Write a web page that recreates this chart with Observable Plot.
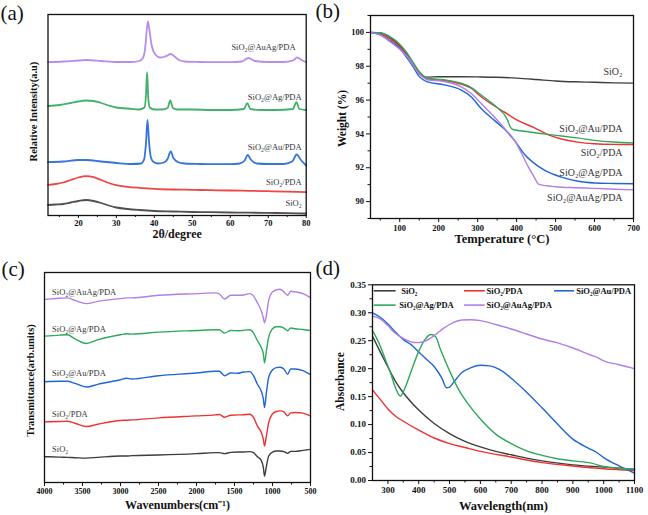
<!DOCTYPE html>
<html><head><meta charset="utf-8">
<script src="https://cdn.jsdelivr.net/npm/d3@7"></script>
<script src="https://cdn.jsdelivr.net/npm/@observablehq/plot@0.6"></script>
<style>
body{margin:0;background:#fff;}
#wrap{position:relative;width:648px;height:515px;overflow:hidden;background:#fff;}
.panel{position:absolute;}
</style>
</head><body>
<div id="wrap">
  <div class="panel" id="pa" style="left:0;top:0"></div>
  <div class="panel" id="pb" style="left:312px;top:0"></div>
  <div class="panel" id="pc" style="left:0;top:258px"></div>
  <div class="panel" id="pd" style="left:312px;top:258px"></div>
</div>
<script>
// ---------- shared series ----------
const names = ["SiO₂", "SiO₂/PDA", "SiO₂@Au/PDA", "SiO₂@Ag/PDA", "SiO₂@AuAg/PDA"];
const colors = ["#3d3d3d", "#ee3131", "#1f65d6", "#2ea85b", "#b07fe6"];

// ---------- (a) XRD, stacked relative intensity (arb. units) ----------
const xrdSiO2X = [12,14,16,18,20,22,24,26,28,30,33,36,40,45,50,55,60,65,70,75,80];
const xrdSiO2Y = [10.5,11,11.5,13,14.5,15.5,14.5,12.5,10,8,6.5,5.5,4.5,4,3.5,3.3,3,2.8,2.6,2.3,2];
const xrdPDAX = [12,14,16,18,20,22,24,26,28,30,33,36,40,45,50,55,60,65,70,75,80];
const xrdPDAY = [30.7,31.5,33,35.5,38,39.3,38.3,35.5,32.5,30.3,28.7,27.7,26.7,26,25.7,25.3,25,24.7,24.3,23.8,23.3];
const xrdAuX = [12,16,20,22,26,30,34,36.5,37.3,37.8,38.2,38.6,39.1,39.8,41,42.5,43.5,44.3,45.1,46.5,48,52,56,60,62.5,63.8,64.6,65.4,67,70,74,76.3,77.5,78.6,80];
const xrdAuY = [53.3,54,55.5,55.5,54,52.5,51.5,52,56,72,95.5,74,58,53.5,52,53,56.5,64,57,53,52,51.5,51.3,51.3,52,55,60.5,56,52,51.5,51.5,54,61,55.5,50];
const xrdAgX = [12,15,18,20,22,24,26,28,30,33,36,37.4,37.8,38.1,38.4,38.8,40,42,43.5,44.2,44.9,46,50,55,60,63.6,64.5,65.3,68,72,76.5,77.4,78.2,80];
const xrdAgY = [109.5,110.5,112.5,114,115,114.5,112.5,110,108,107,106,108,120,143.3,118,108,106,106,107.5,115,107.5,106,106,105.5,105.5,106.5,112.3,106.5,105.5,105.5,106.5,113.3,106.5,105.5];
const xrdAuAgX = [12,16,20,22,26,30,34,36,37,37.6,38,38.3,38.7,39.2,39.8,40.5,41.5,42.5,43.5,44.3,45.2,46.5,48,52,56,60,63,64.8,66.5,70,74,76.5,77.6,78.8,80];
const xrdAuAgY = [153.3,154,155,155.5,154.5,153.5,153.5,154.5,157.5,168,185,194,186,172,164,160,158,158.5,160,161.5,159.5,155.5,154,153.5,153.3,153.3,154,157.5,154.5,153.5,153.5,155,158,155.5,153.3];
const xrdTicks = [20,30,40,50,60,70,80];
const xrdMinor = [15,25,35,45,55,65,75];
const xrdLabelX = [78.8, 78.8, 78.8, 78.8, 77.2];
const xrdLabelY = [12.7, 33.3, 68.3, 118.3, 168.3];

// ---------- (b) TGA ----------
const tgaSiO2T = [25,50,75,100,120,135,150,160,170,200,250,300,350,400,450,500,550,600,650,700];
const tgaSiO2W = [100,99.96,99.7,99.2,98.65,98.15,97.62,97.42,97.36,97.38,97.38,97.37,97.35,97.3,97.22,97.13,97.08,97.05,97.02,97.0];
const tgaPDAT = [25,50,75,100,120,135,150,160,171,200,230,257,283,309,343,368,403,446,480,515,560,600,650,700];
const tgaPDAW = [100,99.9,99.62,99.15,98.6,98.15,97.6,97.38,97.25,97.18,97.1,96.95,96.7,96.2,95.65,95.3,94.8,94.36,93.96,93.7,93.5,93.42,93.38,93.37];
const tgaAuT = [25,50,75,100,120,135,150,160,171,214,257,283,309,343,360,370,377,384,390,400,430,470,515,560,600,650,700];
const tgaAuW = [100,99.98,99.75,99.3,98.75,98.2,97.7,97.45,97.3,97.2,97.0,96.75,96.3,95.7,95.35,95.1,94.8,94.4,94.27,94.22,94.13,94.0,93.88,93.75,93.62,93.52,93.47];
const tgaAgT = [25,50,75,100,120,135,150,160,171,214,257,283,309,343,368,395,420,455,490,515,558,601,650,700];
const tgaAgW = [100,99.85,99.5,99.05,98.45,97.95,97.4,97.2,97.08,96.9,96.6,96.2,95.5,94.8,94.3,93.6,92.8,92.1,91.65,91.45,91.2,91.1,91.07,91.05];
const tgaAuAgT = [25,50,75,100,120,135,150,160,171,214,257,283,309,343,368,395,429,445,455,460,500,550,600,650,700];
const tgaAuAgW = [100,99.85,99.45,99.0,98.55,98.05,97.55,97.35,97.2,97.1,96.8,96.4,95.8,95.0,94.35,93.6,92.1,91.45,91.05,91.0,90.88,90.82,90.78,90.73,90.69];
// note: in panel (b) the green curve is labelled SiO2@Au/PDA and the blue one SiO2@Ag/PDA
const tgaTicksX = [100,200,300,400,500,600,700];
const tgaMinorX = [50,150,250,350,450,550,650];
const tgaTicksY = [90,92,94,96,98,100];
const tgaMinorY = [89,91,93,95,97,99,101];
const tgaLabels = ["SiO₂", "SiO₂@Au/PDA", "SiO₂/PDA", "SiO₂@Ag/PDA", "SiO₂@AuAg/PDA"];
const tgaLabelT = [672, 672, 672, 672, 672];
const tgaLabelW = [97.65, 94.32, 92.86, 91.73, 90.25];

// ---------- (c) FTIR, stacked transmittance (arb. units) ----------
const irWn = [4000,3800,3700,3600,3450,3300,3000,2920,2850,2500,2000,1750,1700,1630,1550,1450,1400,1300,1250,1200,1150,1120,1105,1080,1050,1000,950,900,850,800,760,700,600,500];
const irSiO2 = [25.7,25.3,25,24.7,24.3,25,26.3,26.3,26.7,27.3,28.7,29.7,29.7,28.7,30,30.3,30.3,30.7,29.7,25.7,22.3,14.7,6.3,16.3,26.3,30.3,31.3,31.3,30.7,29,31,31,32,33];
const irPDA = [60.3,60.7,61,59,55.7,58,61.7,62,62.3,64.3,66.3,67.3,67.7,65,67,67.3,67.3,68,64.7,56.3,50.3,43,36.3,46.3,59.7,68.3,70.7,71.3,70.3,66.3,69.3,69.7,69,66.3];
const irAu = [100.3,100.7,100.7,98.7,95,97.7,102.3,103.7,103,106.3,109,110.7,110.7,106.3,109,108.7,109.7,110.3,106.3,98,91.3,83,74.7,89.7,104.7,112,114.3,114.7,113,107.7,113,113,111.3,107.3];
const irAg = [145.7,146.7,147,143,138.3,142,147,148,147.7,149.7,151.3,152,152,148.7,151.3,151,151.3,152,149,141.3,134.7,128,119,131.3,144.7,153,155,155,153.7,151,153.7,153,152.3,151.3];
const irAuAg = [182.3,183.3,183.7,181.3,178,180.3,183,183.7,183.7,186.3,188,188.7,187.7,182.7,186.3,186.3,186.3,188,185.7,179,171.3,163.7,159,166.3,181.3,189.7,191.7,192.3,189.7,186.3,190.3,189.7,188,184];
const irTicks = [4000,3500,3000,2500,2000,1500,1000,500];
const irMinor = [3750,3250,2750,2250,1750,1250,750];
const irLabelWn = [3900, 3900, 3900, 3900, 3900];
const irLabelY = [33, 68, 109, 152.3, 189.7];

// ---------- (d) UV-vis ----------
const uvSiO2X = [250,275,300,325,350,400,450,500,550,600,650,700,750,800,900,1000,1100];
const uvSiO2Y = [0.258,0.23,0.203,0.177,0.157,0.126,0.102,0.084,0.07,0.06,0.052,0.046,0.04,0.035,0.028,0.024,0.02];
const uvPDAX = [250,275,300,325,350,400,450,500,550,600,700,800,900,1000,1100];
const uvPDAY = [0.162,0.145,0.128,0.115,0.106,0.09,0.076,0.066,0.059,0.052,0.042,0.032,0.026,0.021,0.018];
const uvAuX = [250,275,300,325,350,375,400,425,450,475,490,500,515,540,570,600,630,660,700,750,800,850,900,950,975,1000,1050,1100];
const uvAuY = [0.3,0.292,0.28,0.265,0.252,0.243,0.23,0.217,0.204,0.183,0.166,0.167,0.177,0.193,0.202,0.206,0.205,0.199,0.183,0.158,0.13,0.101,0.074,0.058,0.051,0.041,0.026,0.013];
const uvAgX = [250,270,290,310,325,340,355,375,400,420,440,455,470,500,530,560,600,650,700,750,800,850,900,960,1000,1050,1100];
const uvAgY = [0.268,0.247,0.219,0.19,0.165,0.151,0.165,0.195,0.231,0.252,0.261,0.257,0.235,0.196,0.162,0.137,0.11,0.083,0.066,0.053,0.045,0.039,0.035,0.031,0.025,0.022,0.02];
const uvAuAgX = [250,275,300,320,350,375,400,420,450,480,500,540,570,600,650,700,750,800,850,900,960,975,1000,1050,1100];
const uvAuAgY = [0.294,0.289,0.277,0.265,0.254,0.248,0.2465,0.249,0.259,0.272,0.279,0.287,0.2875,0.286,0.279,0.271,0.262,0.253,0.246,0.237,0.224,0.221,0.214,0.207,0.2];
const uvTicksX = [300,400,500,600,700,800,900,1000,1100];
const uvMinorX = [350,450,550,650,750,850,950,1050];
const uvTicksY = [0,0.05,0.1,0.15,0.2,0.25,0.3,0.35];
const uvMinorY = [0.025,0.075,0.125,0.175,0.225,0.275,0.325];
// legend layout (data units)
const legNames = ["SiO₂", "SiO₂/PDA", "SiO₂@Au/PDA", "SiO₂@Ag/PDA", "SiO₂@AuAg/PDA"];
const legX1 = [254, 547, 839, 254, 547];
const legX2 = [325, 614, 904, 325, 614];
const legTX = [343, 620, 911, 337, 620];
const legY = [0.3393, 0.3393, 0.3393, 0.3137, 0.3137];

// ---------- helpers ----------
function rows(name, xs, ys) { return xs.map((x, i) => ({name, x, y: ys[i]})); }
const serif = '"Liberation Serif", "Times New Roman", serif';
const baseStyle = {fontFamily: serif, fontWeight: "bold", fontSize: "9px", background: "transparent", color: "#111", overflow: "visible"};
const colorScale = {domain: names, range: colors};
const plain = d => String(d);
function titleX(t, dy, size) { return Plot.text([t], {frameAnchor: "bottom", dy, text: d => d, textAnchor: "middle", lineAnchor: "middle", fontSize: size, fontWeight: "bold", fill: "#111"}); }
function titleY(t, dx, dy, size) { return Plot.text([t], {frameAnchor: "left", dx, dy, rotate: -90, text: d => d, textAnchor: "middle", lineAnchor: "middle", fontSize: size, fontWeight: "bold", fill: "#111"}); }
function tag(t, dx, dy) { return Plot.text([t], {frameAnchor: "top-left", dx, dy, text: d => d, textAnchor: "start", lineAnchor: "middle", fontSize: 21, fontWeight: "normal", fill: "#111"}); }
const frame = Plot.frame({stroke: "#111", strokeWidth: 1.3});

// ---------- (a) ----------
const dataA = [
  ...rows(names[0], xrdSiO2X, xrdSiO2Y),
  ...rows(names[1], xrdPDAX, xrdPDAY),
  ...rows(names[2], xrdAuX, xrdAuY),
  ...rows(names[3], xrdAgX, xrdAgY),
  ...rows(names[4], xrdAuAgX, xrdAuAgY)
];
const labA = names.map((n, i) => ({n, x: xrdLabelX[i], y: xrdLabelY[i]}));
document.getElementById("pa").append(Plot.plot({
  width: 324, height: 258, marginLeft: 47.5, marginRight: 18.3, marginTop: 14, marginBottom: 43,
  x: {domain: [12, 80], label: null},
  y: {domain: [0, 201], axis: null},
  color: colorScale,
  style: baseStyle,
  marks: [
    Plot.axisX({ticks: xrdTicks, tickSize: 3, tickPadding: 1, tickFormat: plain, fontSize: 8.5, label: null, stroke: "#111"}),
    Plot.axisX({ticks: xrdMinor, tickSize: 2, tickFormat: () => "", label: null, stroke: "#111"}),
    Plot.line(dataA, {x: "x", y: "y", z: "name", stroke: "name", strokeWidth: 1.8, curve: "monotone-x", strokeOpacity: 0.9}),
    Plot.text(labA, {x: "x", y: "y", text: "n", textAnchor: "end", fontSize: 8.5, fontWeight: "normal", fill: "#333"}),
    titleX("2θ/degree", 18.5, 12),
    titleY("Relative Intensity(a.u)", -14.5, -3.5, 10.5),
    tag("(a)", -47.5, -1.5),
    frame
  ]
}));

// ---------- (b) ----------
const dataB = [
  ...rows(names[0], tgaSiO2T, tgaSiO2W),
  ...rows(names[1], tgaPDAT, tgaPDAW),
  ...rows(names[3], tgaAuT, tgaAuW),
  ...rows(names[2], tgaAgT, tgaAgW),
  ...rows(names[4], tgaAuAgT, tgaAuAgW)
];
const labB = tgaLabels.map((n, i) => ({n, x: tgaLabelT[i], y: tgaLabelW[i]}));
document.getElementById("pb").append(Plot.plot({
  width: 336, height: 258, marginLeft: 58, marginRight: 15, marginTop: 15, marginBottom: 40,
  x: {domain: [25, 700], label: null},
  y: {domain: [89, 101], label: null},
  color: colorScale,
  style: baseStyle,
  marks: [
    Plot.axisX({ticks: tgaTicksX, tickSize: 4, tickPadding: 2, tickFormat: plain, fontSize: 8.5, label: null, stroke: "#111"}),
    Plot.axisX({ticks: tgaMinorX, tickSize: 2.5, tickFormat: () => "", label: null, stroke: "#111"}),
    Plot.axisY({ticks: tgaTicksY, tickSize: 4, tickPadding: 2.5, tickFormat: plain, fontSize: 8.5, label: null, stroke: "#111"}),
    Plot.axisY({ticks: tgaMinorY, tickSize: 2.5, tickFormat: () => "", label: null, stroke: "#111"}),
    Plot.line(dataB, {x: "x", y: "y", z: "name", stroke: "name", strokeWidth: 1.4, curve: "monotone-x"}),
    Plot.text(labB, {x: "x", y: "y", text: "n", textAnchor: "end", fontSize: 10, fontWeight: "normal", fill: "#333"}),
    titleX("Temperature (°C)", 20.5, 12.5),
    titleY("Weight (%)", -28, 1.5, 11.5),
    tag("(b)", -55, -4),
    frame
  ]
}));

// ---------- (c) ----------
const dataC = [
  ...rows(names[0], irWn, irSiO2),
  ...rows(names[1], irWn, irPDA),
  ...rows(names[2], irWn, irAu),
  ...rows(names[3], irWn, irAg),
  ...rows(names[4], irWn, irAuAg)
];
const labC = names.map((n, i) => ({n, x: irLabelWn[i], y: irLabelY[i]}));
document.getElementById("pc").append(Plot.plot({
  width: 324, height: 257, marginLeft: 44, marginRight: 14, marginTop: 14, marginBottom: 33,
  x: {domain: [4000, 500], label: null},
  y: {domain: [0, 209], axis: null},
  color: colorScale,
  style: baseStyle,
  marks: [
    Plot.axisX({ticks: irTicks, tickSize: 4, tickPadding: 2, tickFormat: plain, fontSize: 8, label: null, stroke: "#111"}),
    Plot.axisX({ticks: irMinor, tickSize: 2.5, tickFormat: () => "", label: null, stroke: "#111"}),
    Plot.line(dataC, {x: "x", y: "y", z: "name", stroke: "name", strokeWidth: 1.4, curve: "monotone-x"}),
    Plot.text(labC, {x: "x", y: "y", text: "n", textAnchor: "start", fontSize: 8.5, fontWeight: "normal", fill: "#333"}),
    titleX("Wavenumbers(cm⁻¹)", 23, 12),
    titleY("Transmittance(arb.units)", -14, 3, 10.5),
    tag("(c)", -43, -3.5),
    frame
  ]
}));

// ---------- (d) ----------
const dataD = [
  ...rows(names[0], uvSiO2X, uvSiO2Y),
  ...rows(names[1], uvPDAX, uvPDAY),
  ...rows(names[2], uvAuX, uvAuY),
  ...rows(names[3], uvAgX, uvAgY),
  ...rows(names[4], uvAuAgX, uvAuAgY)
];
const legend = legNames.map((n, i) => ({n, x1: legX1[i], x2: legX2[i], tx: legTX[i], y: legY[i]}));
document.getElementById("pd").append(Plot.plot({
  width: 336, height: 257, marginLeft: 60, marginRight: 14, marginTop: 26.3, marginBottom: 35,
  x: {domain: [250, 1100], label: null},
  y: {domain: [0, 0.35], label: null},
  color: colorScale,
  style: baseStyle,
  marks: [
    Plot.axisX({ticks: uvTicksX, tickSize: 4, tickPadding: 2, tickFormat: plain, fontSize: 9, label: null, stroke: "#111"}),
    Plot.axisX({ticks: uvMinorX, tickSize: 2.5, tickFormat: () => "", label: null, stroke: "#111"}),
    Plot.axisY({ticks: uvTicksY, tickSize: 4, tickPadding: 2.5, tickFormat: d3.format(".2f"), fontSize: 9, label: null, stroke: "#111"}),
    Plot.axisY({ticks: uvMinorY, tickSize: 2.5, tickFormat: () => "", label: null, stroke: "#111"}),
    Plot.line(dataD, {x: "x", y: "y", z: "name", stroke: "name", strokeWidth: 1.4, curve: "monotone-x"}),
    Plot.link(legend, {x1: "x1", x2: "x2", y1: "y", y2: "y", stroke: "n", strokeWidth: 1.6}),
    Plot.text(legend, {x: "tx", y: "y", text: "n", textAnchor: "start", fontSize: 8.5, fontWeight: "bold", fill: "#111"}),
    titleX("Wavelength(nm)", 25, 12.5),
    titleY("Absorbance", -32, -1, 11.5),
    tag("(d)", -57, -16.3),
    frame
  ]
}));
</script>
</body></html>
